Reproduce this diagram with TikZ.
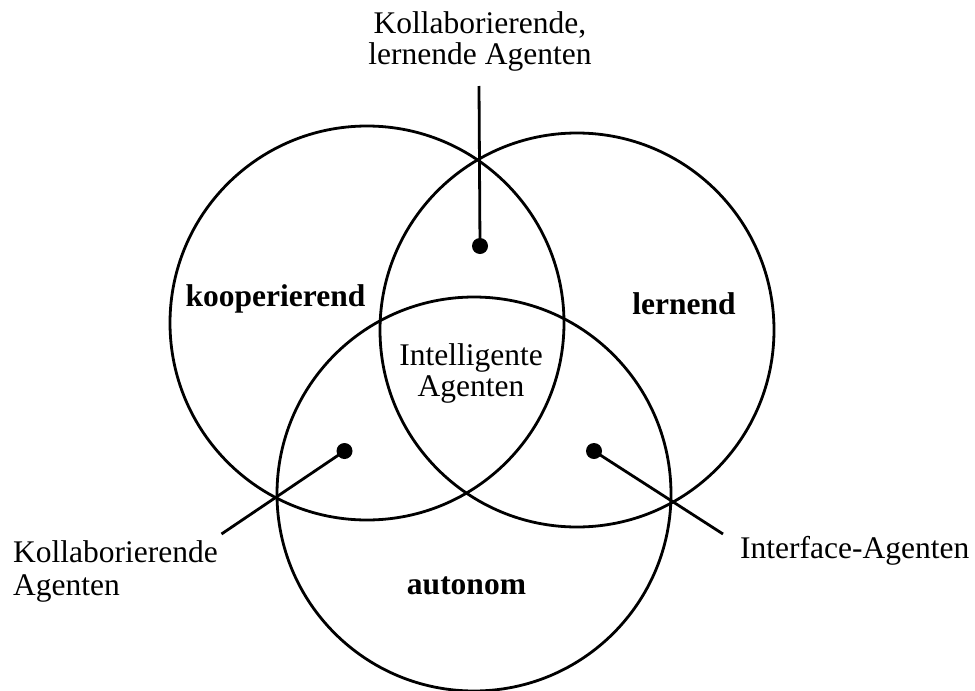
\documentclass[tikz,border=0pt]{standalone}
\usepackage{fontspec}
\setmainfont{Liberation Serif}
\begin{document}
\begin{tikzpicture}[x=1pt,y=-1pt,
  set/.style={draw,circle,line width=2.8pt,minimum size=394pt,inner sep=0pt},
  dot/.style={fill,circle,minimum size=16pt,inner sep=0pt},
  lead/.style={line width=2.8pt},
  lbl/.style={font=\fontsize{31.5}{30.5}\selectfont,inner sep=0pt},
  blbl/.style={font=\fontsize{31.5}{30.5}\selectfont\bfseries,inner sep=0pt}]
\useasboundingbox (0,0) rectangle (975,691);
% the three sets
\node[set] (koop) at (367,323) {};
\node[set] (lern) at (577,330) {};
\node[set] (auto) at (474,494) {};
% set names
\node[blbl,anchor=base] (tkoop) at (275.5,306) {kooperierend};
\node[blbl,anchor=base] (tlern) at (684,314) {lernend};
\node[blbl,anchor=base] (tauto) at (466.5,594) {autonom};
% two-line nodes: the base anchor sits on the last line
\node[lbl,anchor=base,align=center] (tintel) at (471,396) {Intelligente\\Agenten};
% markers in the pairwise intersections
\node[dot] (dtop) at (480,246) {};
\node[dot] (dleft) at (344.5,451) {};
\node[dot] (dright) at (594,451) {};
\coordinate (etop) at (479,86);
\coordinate (eleft) at (221.5,534);
\coordinate (eright) at (723,534);
\draw[lead] (dtop.center) -- (etop);
\draw[lead] (dleft.center) -- (eleft);
\draw[lead] (dright.center) -- (eright);
% callout labels
\node[lbl,anchor=base,align=center] (ltop) at (480,64) {Kollaborierende,\\lernende Agenten};
\node[lbl,font=\fontsize{31.5}{33.5}\selectfont,anchor=base west,align=left] (lleft) at (13,595.5) {Kollaborierende\\Agenten};
\node[lbl,anchor=base west] (lright) at (740,558) {Interface-Agenten};
\end{tikzpicture}
\end{document}
